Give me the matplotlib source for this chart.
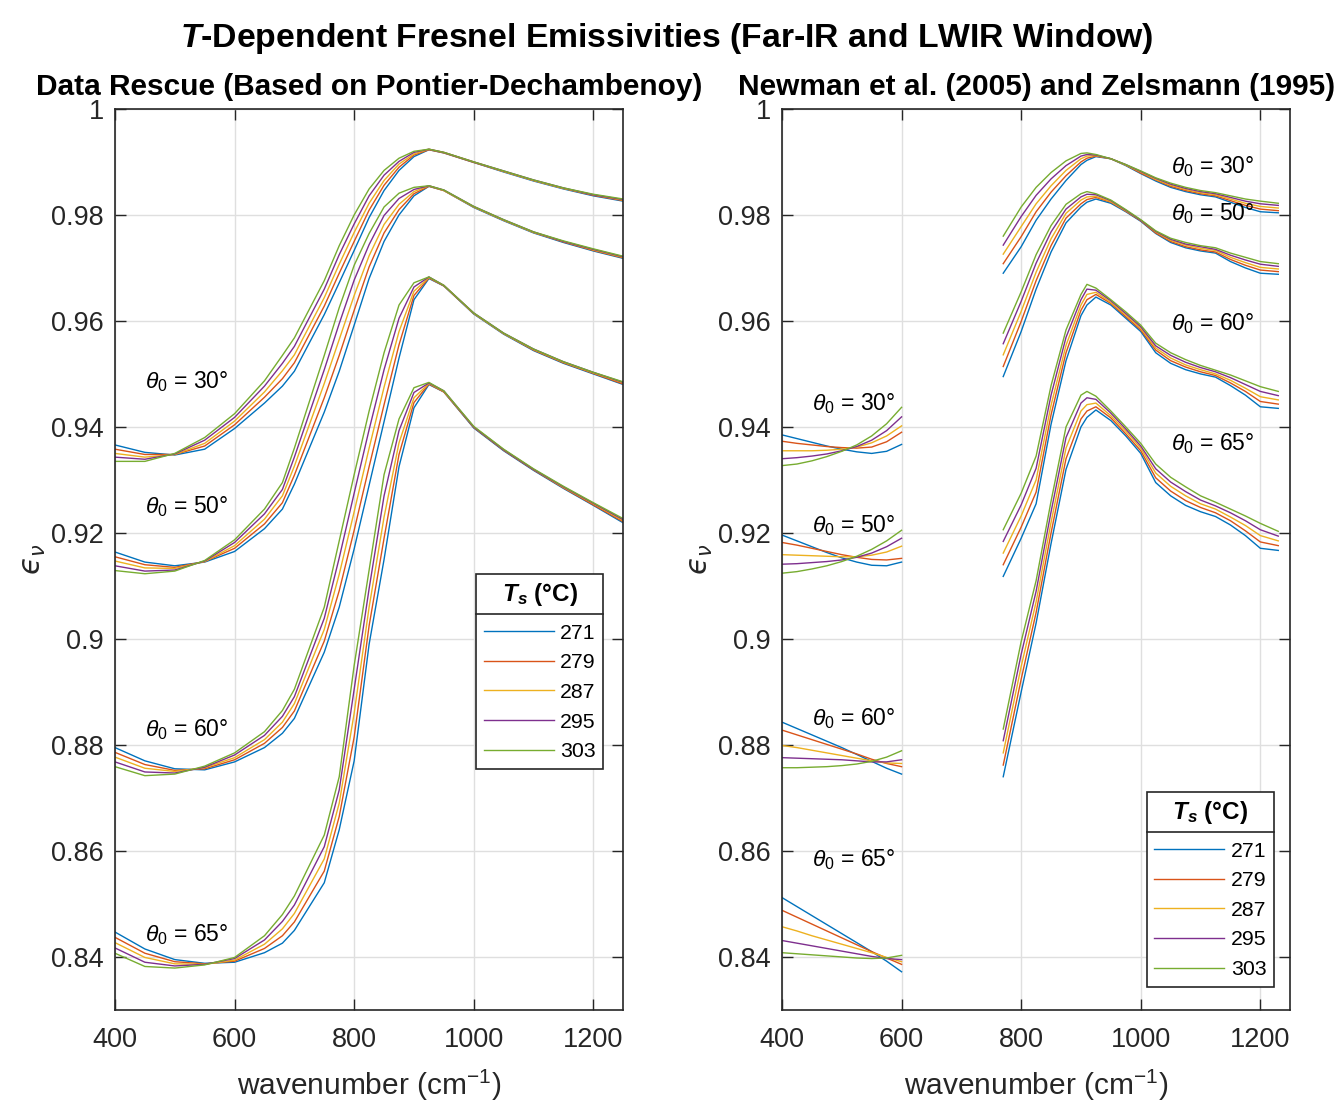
import matplotlib
matplotlib.use('Agg')
import matplotlib.pyplot as plt
from matplotlib.lines import Line2D
from matplotlib.ticker import FixedLocator, FuncFormatter

plt.rcParams['font.family'] = ['Liberation Sans', 'DejaVu Sans']
plt.rcParams['mathtext.fontset'] = 'custom'
plt.rcParams['mathtext.rm'] = 'Liberation Sans'
plt.rcParams['mathtext.it'] = 'Liberation Sans:italic'
plt.rcParams['mathtext.bf'] = 'Liberation Sans:bold'
plt.rcParams['mathtext.bfit'] = 'Liberation Sans:bold:italic'

temps = [271, 279, 287, 295, 303]
colors = ['#0072BD', '#D95319', '#EDB120', '#7E2F8E', '#77AC30']
angles = [30, 50, 60, 65]

# ---- left panel: data rescue, 400-1250 cm-1 ----
wn_left = [400, 450, 500, 550, 600, 650, 680, 700, 750, 775, 800, 825, 850, 875, 900, 925, 950,
           1000, 1050, 1100, 1150, 1200, 1250]
left_30 = [
    [0.9366, 0.9352, 0.9347, 0.9358, 0.9397, 0.9445, 0.9477, 0.9505, 0.9612, 0.9672, 0.9733, 0.9795, 0.9846, 0.9884, 0.9910, 0.9923, 0.9917, 0.9899, 0.9881, 0.9864, 0.9849, 0.9836, 0.9826],
    [0.9358, 0.9348, 0.9348, 0.9364, 0.9404, 0.9456, 0.9491, 0.9521, 0.9628, 0.9690, 0.9750, 0.9809, 0.9856, 0.9890, 0.9913, 0.9923, 0.9917, 0.9899, 0.9882, 0.9865, 0.9850, 0.9837, 0.9827],
    [0.9350, 0.9343, 0.9348, 0.9369, 0.9411, 0.9466, 0.9506, 0.9536, 0.9644, 0.9707, 0.9767, 0.9822, 0.9865, 0.9896, 0.9915, 0.9924, 0.9918, 0.9900, 0.9882, 0.9865, 0.9850, 0.9838, 0.9828],
    [0.9343, 0.9339, 0.9349, 0.9375, 0.9418, 0.9477, 0.9520, 0.9552, 0.9660, 0.9725, 0.9783, 0.9836, 0.9875, 0.9901, 0.9918, 0.9924, 0.9918, 0.9900, 0.9883, 0.9866, 0.9851, 0.9838, 0.9829],
    [0.9335, 0.9335, 0.9350, 0.9380, 0.9425, 0.9487, 0.9535, 0.9568, 0.9676, 0.9742, 0.9800, 0.9849, 0.9884, 0.9907, 0.9920, 0.9924, 0.9918, 0.9900, 0.9883, 0.9866, 0.9851, 0.9839, 0.9830],
]
left_50 = [
    [0.9164, 0.9145, 0.9138, 0.9145, 0.9165, 0.9208, 0.9245, 0.9292, 0.9428, 0.9505, 0.9592, 0.9680, 0.9750, 0.9800, 0.9836, 0.9854, 0.9846, 0.9814, 0.9789, 0.9766, 0.9748, 0.9732, 0.9718],
    [0.9155, 0.9140, 0.9135, 0.9146, 0.9171, 0.9217, 0.9257, 0.9309, 0.9455, 0.9535, 0.9620, 0.9702, 0.9766, 0.9810, 0.9840, 0.9854, 0.9846, 0.9815, 0.9790, 0.9767, 0.9749, 0.9733, 0.9719],
    [0.9147, 0.9134, 0.9133, 0.9146, 0.9176, 0.9226, 0.9270, 0.9326, 0.9482, 0.9565, 0.9648, 0.9723, 0.9782, 0.9820, 0.9844, 0.9855, 0.9846, 0.9815, 0.9790, 0.9767, 0.9750, 0.9734, 0.9720],
    [0.9138, 0.9128, 0.9130, 0.9147, 0.9182, 0.9236, 0.9282, 0.9343, 0.9508, 0.9595, 0.9677, 0.9744, 0.9799, 0.9831, 0.9848, 0.9855, 0.9847, 0.9816, 0.9791, 0.9768, 0.9750, 0.9735, 0.9721],
    [0.9129, 0.9123, 0.9128, 0.9148, 0.9187, 0.9245, 0.9295, 0.9360, 0.9535, 0.9625, 0.9705, 0.9765, 0.9815, 0.9841, 0.9852, 0.9855, 0.9847, 0.9816, 0.9791, 0.9768, 0.9751, 0.9736, 0.9722],
]
left_60 = [
    [0.8795, 0.8770, 0.8755, 0.8753, 0.8768, 0.8795, 0.8822, 0.8850, 0.8975, 0.9060, 0.9170, 0.9290, 0.9410, 0.9530, 0.9640, 0.9680, 0.9666, 0.9613, 0.9575, 0.9544, 0.9520, 0.9500, 0.9480],
    [0.8786, 0.8763, 0.8752, 0.8755, 0.8772, 0.8803, 0.8833, 0.8864, 0.8996, 0.9091, 0.9205, 0.9325, 0.9442, 0.9555, 0.9648, 0.9681, 0.9666, 0.9614, 0.9576, 0.9545, 0.9521, 0.9501, 0.9481],
    [0.8777, 0.8756, 0.8750, 0.8757, 0.8776, 0.8810, 0.8843, 0.8878, 0.9018, 0.9122, 0.9240, 0.9360, 0.9475, 0.9580, 0.9656, 0.9682, 0.9667, 0.9614, 0.9576, 0.9546, 0.9522, 0.9502, 0.9483],
    [0.8768, 0.8749, 0.8747, 0.8758, 0.8781, 0.8818, 0.8854, 0.8891, 0.9039, 0.9153, 0.9275, 0.9395, 0.9508, 0.9605, 0.9664, 0.9683, 0.9667, 0.9615, 0.9577, 0.9547, 0.9523, 0.9503, 0.9484],
    [0.8759, 0.8742, 0.8745, 0.8760, 0.8785, 0.8825, 0.8865, 0.8905, 0.9060, 0.9185, 0.9310, 0.9430, 0.9540, 0.9630, 0.9672, 0.9683, 0.9667, 0.9615, 0.9577, 0.9547, 0.9523, 0.9503, 0.9485],
]
left_65 = [
    [0.8447, 0.8415, 0.8395, 0.8388, 0.8390, 0.8408, 0.8426, 0.8450, 0.8540, 0.8640, 0.8770, 0.8990, 0.9150, 0.9325, 0.9436, 0.9480, 0.9466, 0.9398, 0.9355, 0.9318, 0.9284, 0.9252, 0.9219],
    [0.8437, 0.8407, 0.8391, 0.8387, 0.8392, 0.8416, 0.8440, 0.8466, 0.8562, 0.8665, 0.8815, 0.9025, 0.9190, 0.9348, 0.9446, 0.9481, 0.9466, 0.9399, 0.9356, 0.9319, 0.9285, 0.9253, 0.9221],
    [0.8427, 0.8399, 0.8387, 0.8386, 0.8394, 0.8424, 0.8453, 0.8482, 0.8585, 0.8690, 0.8860, 0.9060, 0.9230, 0.9370, 0.9455, 0.9482, 0.9467, 0.9400, 0.9357, 0.9320, 0.9286, 0.9255, 0.9223],
    [0.8417, 0.8390, 0.8383, 0.8386, 0.8397, 0.8432, 0.8467, 0.8498, 0.8608, 0.8715, 0.8905, 0.9095, 0.9270, 0.9393, 0.9465, 0.9483, 0.9468, 0.9400, 0.9357, 0.9320, 0.9287, 0.9256, 0.9225],
    [0.8407, 0.8382, 0.8379, 0.8385, 0.8399, 0.8440, 0.8480, 0.8515, 0.8630, 0.8740, 0.8950, 0.9130, 0.9310, 0.9415, 0.9474, 0.9484, 0.9468, 0.9401, 0.9358, 0.9321, 0.9288, 0.9257, 0.9227],
]

# ---- right panel: far-IR piece (Zelsmann) ----
wn_far = [400, 425, 450, 475, 500, 525, 550, 575, 600]
far_30 = [
    [0.9385, 0.9378, 0.9371, 0.9364, 0.9358, 0.9353, 0.9350, 0.9354, 0.9367],
    [0.9373, 0.9369, 0.9366, 0.9363, 0.9361, 0.9360, 0.9362, 0.9372, 0.9390],
    [0.9355, 0.9355, 0.9355, 0.9356, 0.9358, 0.9362, 0.9370, 0.9383, 0.9402],
    [0.9340, 0.9342, 0.9345, 0.9349, 0.9355, 0.9363, 0.9375, 0.9393, 0.9419],
    [0.9327, 0.9330, 0.9336, 0.9344, 0.9354, 0.9366, 0.9383, 0.9406, 0.9437],
]
far_50 = [
    [0.9196, 0.9185, 0.9174, 0.9163, 0.9153, 0.9145, 0.9139, 0.9138, 0.9145],
    [0.9182, 0.9177, 0.9171, 0.9165, 0.9159, 0.9154, 0.9150, 0.9149, 0.9152],
    [0.9159, 0.9158, 0.9157, 0.9156, 0.9155, 0.9155, 0.9158, 0.9164, 0.9175],
    [0.9141, 0.9142, 0.9144, 0.9146, 0.9149, 0.9154, 0.9162, 0.9174, 0.9190],
    [0.9124, 0.9127, 0.9132, 0.9138, 0.9146, 0.9156, 0.9169, 0.9185, 0.9205],
]
far_60 = [
    [0.8843, 0.8831, 0.8819, 0.8807, 0.8795, 0.8782, 0.8769, 0.8756, 0.8745],
    [0.8828, 0.8819, 0.8810, 0.8801, 0.8792, 0.8783, 0.8773, 0.8765, 0.8759],
    [0.8799, 0.8795, 0.8790, 0.8785, 0.8780, 0.8775, 0.8770, 0.8766, 0.8765],
    [0.8776, 0.8775, 0.8774, 0.8773, 0.8772, 0.8770, 0.8768, 0.8768, 0.8772],
    [0.8757, 0.8757, 0.8758, 0.8759, 0.8761, 0.8764, 0.8769, 0.8777, 0.8789],
]
far_65 = [
    [0.8512, 0.8495, 0.8478, 0.8461, 0.8444, 0.8427, 0.8410, 0.8392, 0.8372],
    [0.8488, 0.8475, 0.8462, 0.8449, 0.8436, 0.8423, 0.8410, 0.8398, 0.8386],
    [0.8457, 0.8449, 0.8440, 0.8432, 0.8424, 0.8416, 0.8408, 0.8399, 0.8391],
    [0.8431, 0.8426, 0.8421, 0.8416, 0.8411, 0.8406, 0.8401, 0.8397, 0.8395],
    [0.8408, 0.8406, 0.8404, 0.8402, 0.8400, 0.8398, 0.8397, 0.8398, 0.8403],
]

# ---- right panel: LWIR window piece (Newman) ----
wn_lwir = [770, 800, 825, 850, 875, 900, 910, 925, 950, 975, 1000, 1025, 1050, 1075, 1100, 1125, 1150,
           1175, 1200, 1230]
lwir_30 = [
    [0.9690, 0.9740, 0.9790, 0.9830, 0.9865, 0.9895, 0.9903, 0.9910, 0.9906, 0.9893, 0.9878, 0.9864, 0.9852, 0.9844, 0.9838, 0.9834, 0.9824, 0.9814, 0.9806, 0.9804],
    [0.9708, 0.9759, 0.9806, 0.9843, 0.9874, 0.9900, 0.9907, 0.9911, 0.9906, 0.9894, 0.9879, 0.9866, 0.9854, 0.9846, 0.9840, 0.9836, 0.9827, 0.9818, 0.9811, 0.9808],
    [0.9726, 0.9778, 0.9821, 0.9855, 0.9884, 0.9906, 0.9911, 0.9912, 0.9906, 0.9894, 0.9881, 0.9867, 0.9856, 0.9848, 0.9842, 0.9838, 0.9830, 0.9822, 0.9816, 0.9813],
    [0.9743, 0.9797, 0.9837, 0.9868, 0.9893, 0.9911, 0.9914, 0.9913, 0.9906, 0.9895, 0.9882, 0.9869, 0.9858, 0.9850, 0.9844, 0.9840, 0.9833, 0.9826, 0.9821, 0.9818],
    [0.9760, 0.9815, 0.9852, 0.9880, 0.9902, 0.9916, 0.9917, 0.9914, 0.9906, 0.9895, 0.9883, 0.9870, 0.9860, 0.9852, 0.9846, 0.9842, 0.9836, 0.9830, 0.9826, 0.9822],
]
lwir_50 = [
    [0.9495, 0.9580, 0.9660, 0.9730, 0.9785, 0.9815, 0.9824, 0.9830, 0.9822, 0.9806, 0.9788, 0.9765, 0.9748, 0.9738, 0.9732, 0.9728, 0.9712, 0.9700, 0.9690, 0.9688],
    [0.9514, 0.9599, 0.9676, 0.9742, 0.9794, 0.9821, 0.9829, 0.9833, 0.9824, 0.9807, 0.9789, 0.9766, 0.9750, 0.9740, 0.9734, 0.9730, 0.9716, 0.9705, 0.9696, 0.9693],
    [0.9536, 0.9618, 0.9692, 0.9755, 0.9803, 0.9828, 0.9834, 0.9835, 0.9825, 0.9808, 0.9790, 0.9768, 0.9752, 0.9743, 0.9737, 0.9733, 0.9720, 0.9710, 0.9701, 0.9698],
    [0.9557, 0.9637, 0.9709, 0.9768, 0.9811, 0.9834, 0.9839, 0.9838, 0.9827, 0.9809, 0.9790, 0.9769, 0.9754, 0.9745, 0.9740, 0.9735, 0.9724, 0.9715, 0.9707, 0.9703],
    [0.9577, 0.9655, 0.9725, 0.9780, 0.9820, 0.9840, 0.9844, 0.9840, 0.9828, 0.9810, 0.9791, 0.9770, 0.9756, 0.9748, 0.9742, 0.9738, 0.9728, 0.9720, 0.9712, 0.9708],
]
lwir_60 = [
    [0.9118, 0.9190, 0.9255, 0.9405, 0.9525, 0.9610, 0.9630, 0.9645, 0.9630, 0.9605, 0.9580, 0.9540, 0.9520, 0.9508, 0.9500, 0.9494, 0.9478, 0.9460, 0.9438, 0.9435],
    [0.9140, 0.9211, 0.9277, 0.9423, 0.9540, 0.9620, 0.9640, 0.9650, 0.9633, 0.9608, 0.9583, 0.9545, 0.9525, 0.9513, 0.9504, 0.9497, 0.9483, 0.9467, 0.9448, 0.9443],
    [0.9162, 0.9232, 0.9300, 0.9441, 0.9554, 0.9630, 0.9650, 0.9654, 0.9635, 0.9611, 0.9586, 0.9549, 0.9530, 0.9517, 0.9508, 0.9500, 0.9488, 0.9473, 0.9457, 0.9451],
    [0.9184, 0.9253, 0.9322, 0.9460, 0.9569, 0.9640, 0.9660, 0.9658, 0.9638, 0.9614, 0.9589, 0.9553, 0.9535, 0.9522, 0.9512, 0.9504, 0.9493, 0.9480, 0.9467, 0.9459],
    [0.9206, 0.9275, 0.9345, 0.9478, 0.9583, 0.9650, 0.9669, 0.9662, 0.9640, 0.9617, 0.9592, 0.9558, 0.9540, 0.9527, 0.9516, 0.9507, 0.9498, 0.9487, 0.9476, 0.9467],
]
lwir_65 = [
    [0.8740, 0.8900, 0.9030, 0.9180, 0.9320, 0.9400, 0.9418, 0.9432, 0.9412, 0.9383, 0.9350, 0.9295, 0.9270, 0.9252, 0.9240, 0.9231, 0.9215, 0.9195, 0.9171, 0.9167],
    [0.8762, 0.8924, 0.9050, 0.9200, 0.9340, 0.9415, 0.9430, 0.9438, 0.9417, 0.9387, 0.9355, 0.9304, 0.9279, 0.9261, 0.9248, 0.9238, 0.9223, 0.9204, 0.9183, 0.9176],
    [0.8785, 0.8948, 0.9070, 0.9220, 0.9360, 0.9430, 0.9442, 0.9445, 0.9421, 0.9392, 0.9360, 0.9313, 0.9288, 0.9270, 0.9255, 0.9245, 0.9230, 0.9214, 0.9195, 0.9185],
    [0.8808, 0.8971, 0.9090, 0.9240, 0.9380, 0.9445, 0.9455, 0.9452, 0.9426, 0.9396, 0.9364, 0.9321, 0.9296, 0.9278, 0.9262, 0.9251, 0.9238, 0.9223, 0.9206, 0.9194],
    [0.8830, 0.8995, 0.9110, 0.9260, 0.9400, 0.9460, 0.9467, 0.9458, 0.9430, 0.9400, 0.9369, 0.9330, 0.9305, 0.9287, 0.9270, 0.9258, 0.9245, 0.9232, 0.9218, 0.9203],
]

# label anchor positions (wavenumber, emissivity of text baseline)
left_label_x = 450
left_label_y = [0.9473, 0.9237, 0.8816, 0.8429]
far_label_x = 451
far_label_y = [0.9431, 0.9202, 0.8838, 0.8572]
lwir_label_x = 1050
lwir_label_y = [0.9879, 0.9791, 0.9583, 0.9357]

xticks = [400, 600, 800, 1000, 1200]
yticks = [0.84, 0.86, 0.88, 0.90, 0.92, 0.94, 0.96, 0.98, 1.00]

axcol = '#262626'
fig = plt.figure(figsize=(13.34, 11.08), dpi=100)
ax1 = fig.add_axes([0.0862, 0.0885, 0.3810, 0.8132])
ax2 = fig.add_axes([0.5862, 0.0885, 0.3810, 0.8132])


def style(ax, title):
    ax.set_xlim(400, 1250)
    ax.set_ylim(0.83, 1.0)
    ax.xaxis.set_major_locator(FixedLocator(xticks))
    ax.yaxis.set_major_locator(FixedLocator(yticks))
    ax.yaxis.set_major_formatter(FuncFormatter(lambda v, p: f'{v:g}'))
    ax.grid(True, color='#dfdfdf', lw=1.0)
    ax.set_axisbelow(True)
    ax.tick_params(direction='in', length=8, width=1.0, color=axcol, labelcolor=axcol,
                   labelsize=19.5, top=True, right=True)
    ax.tick_params(axis='x', pad=12)
    ax.tick_params(axis='y', pad=8)
    for s in ax.spines.values():
        s.set_color(axcol)
        s.set_linewidth(1.2)
    ax.set_title(title, fontsize=21.5, fontweight='bold', pad=10)
    ax.set_xlabel('wavenumber (cm$^{-1}$)', fontsize=21.5, color=axcol, labelpad=11)
    ax.set_ylabel('$\u03f5_{\\nu}$', fontsize=21.5, color=axcol, labelpad=2,
                  math_fontfamily='dejavusans')


def theta_text(ax, x, y, a):
    ax.text(x, y, r'$\theta_0$ = %d°' % a, fontsize=16.5, ha='left', va='baseline')


style(ax1, 'Data Rescue (Based on Pontier-Dechambenoy)')
style(ax2, 'Newman et al. (2005) and Zelsmann (1995)')

handles = []
for fam in [left_30, left_50, left_60, left_65]:
    for i, T in enumerate(temps):
        ln, = ax1.plot(wn_left, fam[i], color=colors[i], lw=1.0)
        if fam is left_30:
            handles.append(ln)
for fam in [far_30, far_50, far_60, far_65]:
    for i, T in enumerate(temps):
        ax2.plot(wn_far, fam[i], color=colors[i], lw=1.0)
for fam in [lwir_30, lwir_50, lwir_60, lwir_65]:
    for i, T in enumerate(temps):
        ax2.plot(wn_lwir, fam[i], color=colors[i], lw=1.0)

for k, a in enumerate(angles):
    theta_text(ax1, left_label_x, left_label_y[k], a)
    theta_text(ax2, far_label_x, far_label_y[k], a)
    theta_text(ax2, lwir_label_x, lwir_label_y[k], a)

fig.suptitle(r'$\mathbfit{T}$-Dependent Fresnel Emissivities (Far-IR and LWIR Window)',
             fontsize=24.3, fontweight='bold', y=0.981)

legs = []
for ax, anchor in [(ax1, (0.711, 0.4839)), (ax2, (0.718, 0.242))]:
    leg = ax.legend(handles, [str(t) for t in temps], loc='upper left', bbox_to_anchor=anchor,
                    borderaxespad=0, fontsize=15.3, handlelength=3.3, handletextpad=0.3,
                    labelspacing=0.50, borderpad=0.35, fancybox=False, framealpha=1,
                    edgecolor=axcol, title=r'$\mathbfit{T}_\mathbfit{s}$ (°C)',
                    title_fontproperties={'size': 17.5, 'weight': 'bold'})
    leg.get_frame().set_linewidth(1.2)
    # extra room between the title and the entries, as in the MATLAB legend
    leg._legend_box.sep = 11
    legs.append(leg)

fig.canvas.draw()
inv = fig.transFigure.inverted()
for leg in legs:
    fb = leg.get_frame().get_window_extent()
    tb = leg.get_title().get_window_extent()
    ysep = tb.y0 - 6
    (x0, y0), (x1, y1) = inv.transform([(fb.x0, ysep), (fb.x1, ysep)])
    fig.add_artist(Line2D([x0, x1], [y0, y1], color=axcol, lw=1.2))

fig.savefig('out.png', dpi=100)
